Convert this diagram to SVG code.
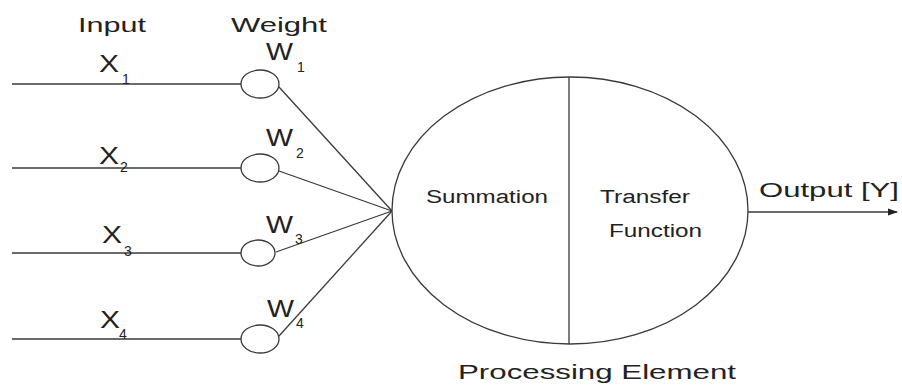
<svg xmlns="http://www.w3.org/2000/svg" width="902" height="387" viewBox="0 0 902 387">
<defs>
<style>
.ln{stroke:#3a3a3a;stroke-width:1.3;fill:none}
.nd{stroke:#3a3a3a;stroke-width:1.3;fill:#fff}
text{font-family:"Liberation Sans",Arial,sans-serif;fill:#222}
.lb{font-size:21px}
.sym{font-size:23px}
.sub{font-size:14px}
.in{font-size:18px}
</style>
<marker id="arr" markerWidth="10" markerHeight="8" refX="9" refY="4" orient="auto" markerUnits="userSpaceOnUse">
<path d="M0,0.5 L10,4 L0,7.5 Z" fill="#222"/>
</marker>
</defs>
<rect width="902" height="387" fill="#fff"/>
<text class="lb" x="78" y="32" textLength="68" lengthAdjust="spacingAndGlyphs">Input</text>
<text class="lb" x="231" y="32" textLength="96" lengthAdjust="spacingAndGlyphs">Weight</text>
<g id="connectors">
<line class="ln" x1="12" y1="84" x2="241" y2="84"/>
<line class="ln" x1="12" y1="168" x2="241" y2="168"/>
<line class="ln" x1="12" y1="253" x2="241" y2="253"/>
<line class="ln" x1="12" y1="339" x2="241" y2="339"/>
<line class="ln" x1="279" y1="87" x2="392" y2="211"/>
<line class="ln" x1="279" y1="171" x2="392" y2="211"/>
<line class="ln" x1="276" y1="252" x2="392" y2="211"/>
<line class="ln" x1="279" y1="336" x2="392" y2="211"/>
<line class="ln" x1="748" y1="212" x2="897" y2="212" marker-end="url(#arr)"/>
</g>
<g id="x1"><text class="sym" x="99" y="72" textLength="20" lengthAdjust="spacingAndGlyphs">X</text><text class="sub" x="122" y="84">1</text></g>
<g id="x2"><text class="sym" x="99" y="164" textLength="20" lengthAdjust="spacingAndGlyphs">X</text><text class="sub" x="120" y="172">2</text></g>
<g id="x3"><text class="sym" x="102" y="243" textLength="20" lengthAdjust="spacingAndGlyphs">X</text><text class="sub" x="124" y="256">3</text></g>
<g id="x4"><text class="sym" x="100" y="328" textLength="20" lengthAdjust="spacingAndGlyphs">X</text><text class="sub" x="119" y="339">4</text></g>
<g id="w1"><ellipse class="nd" cx="260" cy="84" rx="19" ry="14"/><text class="sym" x="266" y="60" textLength="27" lengthAdjust="spacingAndGlyphs">W</text><text class="sub" x="297" y="72">1</text></g>
<g id="w2"><ellipse class="nd" cx="260" cy="168" rx="19" ry="14"/><text class="sym" x="266" y="146" textLength="27" lengthAdjust="spacingAndGlyphs">W</text><text class="sub" x="296" y="158">2</text></g>
<g id="w3"><ellipse class="nd" cx="258" cy="253" rx="17" ry="13"/><text class="sym" x="266" y="233" textLength="27" lengthAdjust="spacingAndGlyphs">W</text><text class="sub" x="295" y="244">3</text></g>
<g id="w4"><ellipse class="nd" cx="260" cy="339" rx="19" ry="14"/><text class="sym" x="267" y="317" textLength="27" lengthAdjust="spacingAndGlyphs">W</text><text class="sub" x="296" y="328">4</text></g>
<g id="processing-element">
<ellipse class="nd" cx="570" cy="210.5" rx="178" ry="133.5"/>
<line class="ln" x1="569" y1="77" x2="569" y2="344"/>
<text class="in" x="426" y="203" textLength="122" lengthAdjust="spacingAndGlyphs">Summation</text>
<text class="in" x="600" y="203" textLength="90" lengthAdjust="spacingAndGlyphs">Transfer</text>
<text class="in" x="609" y="237" textLength="93" lengthAdjust="spacingAndGlyphs">Function</text>
<text class="lb" x="458" y="379" textLength="278" lengthAdjust="spacingAndGlyphs">Processing Element</text>
</g>
<text class="lb" x="759" y="197" textLength="140" lengthAdjust="spacingAndGlyphs">Output [Y]</text>
</svg>
